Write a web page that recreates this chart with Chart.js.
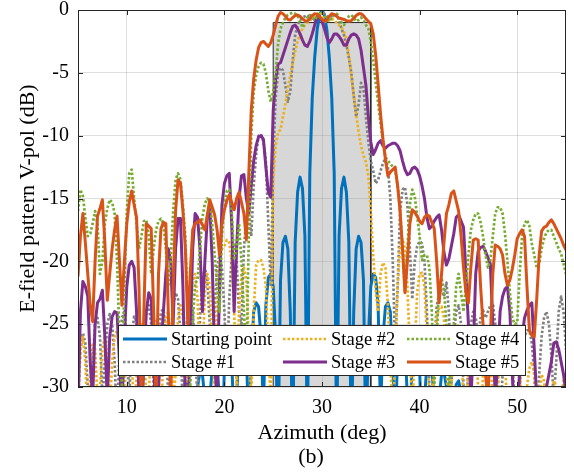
<!DOCTYPE html>
<html>
<head>
<meta charset="utf-8">
<script src="https://cdn.jsdelivr.net/npm/chart.js@4.4.1/dist/chart.umd.min.js"></script>
<style>
  html, body { margin: 0; padding: 0; background: #fff; }
  canvas { display: block; }
</style>
</head>
<body>
<canvas id="chart" width="574" height="472"></canvas>
<script>
// azimuth grid, 0.25 deg step from 5 to 55
const azimuth = [];
for (let i = 0; i <= 200; i++) azimuth.push(5 + i * 0.25);

const xTickValues = [10, 20, 30, 40, 50];
const yTickValues = [-30, -25, -20, -15, -10, -5, 0];

// mask (shaded target region)
const maskAzimuth = [25, 25, 35, 35];
const maskLevel = [-30, -1, -1, -30];

// E-field pattern V-pol (dB), one value per azimuth step
const startingPoint = [
  -34, -32, -31.5, -33, -38, -33, -31.5, -32, -35, -37, -32, -31, -32, -36, -36, -32, -30.8, -31.5, -34, -38,
  -34, -32, -31.5, -33, -38, -33, -31.5, -32, -35, -37, -32, -31, -32, -36, -36, -32, -31, -31.5, -34, -38,
  -33, -37, -34, -30.5, -29.5, -29.8, -31.5, -36, -33, -30, -28.8, -29, -31, -37, -31, -28.5, -27.7, -28.2, -31, -35,
  -28.5, -26.7, -26.7, -28, -33, -31, -26.5, -25.2, -25.3, -27, -34, -28, -24, -23.3, -23.6, -26, -32, -23.5, -21.3, -21,
  -22, -26, -35, -21.5, -18.5, -18, -19, -24, -35, -18.5, -14.5, -13.3, -14.2, -18, -35, -13, -7, -3.8, -1.6, -0.4,
  0, -0.4, -1.6, -3.8, -7, -13, -35, -18, -14.2, -13.3, -14.5, -18.5, -35, -24, -19, -18, -18.5, -21.5, -35, -26,
  -22, -21, -21.3, -23.5, -32, -26, -23.6, -23.3, -24, -28, -34, -27, -25.3, -25.2, -26.5, -31, -33, -28, -26.7, -26.7,
  -28.5, -35, -31, -28.2, -27.7, -28.5, -31, -37, -31, -29, -28.8, -30, -33, -36, -31.5, -29.8, -29.5, -30.5, -34, -37,
  -33, -31, -31.5, -34, -38, -33, -31.5, -32, -35, -37, -32, -31, -32, -36, -36, -32, -30.8, -31.5, -34, -38,
  -34, -32, -31.5, -33, -38, -33, -31.5, -32, -35, -37, -32, -31, -32, -36, -36, -32, -31, -31.5, -34, -38,
  -34
];

const stage1 = [
  -31, -27, -25.7, -26.5, -30, -33, -28, -25, -24.5, -26, -31, -28, -25, -24.2, -25, -28, -33, -27, -24.5, -24,
  -26, -31, -26, -24.4, -24.8, -28, -33, -27, -24, -23.5, -25, -30, -31, -26, -24, -23.8, -25.5, -31, -28, -23.5,
  -22.5, -23, -26, -32, -27, -23.5, -22.8, -24, -27, -31, -24.5, -21.5, -20.5, -21.5, -25, -29, -24, -20.5, -19.5, -20.5,
  -24, -29, -23, -19.5, -18.7, -20, -24, -25, -19, -16.5, -16, -18, -14, -11.5, -10, -9.9, -10.5, -12, -17, -22,
  -12, -7, -5, -4.6, -4.8, -6, -7.3, -6.5, -4, -2, -1.2, -0.8, -0.6, -0.5, -0.4, -0.6, -0.9, -0.8, -0.5, -0.3,
  -0.2, -0.3, -0.5, -0.6, -0.5, -0.4, -0.4, -0.8, -1.5, -2, -2.8, -3.8, -5, -6.8, -8.5, -7.5, -5.8, -6.2, -8.5, -10.5,
  -12, -12.8, -13.8, -13.5, -12.8, -12.2, -11.8, -12.5, -15, -20, -27, -22, -16, -14.3, -14.1, -15.5, -19, -23, -20, -18.8,
  -18.4, -18.6, -20, -24, -30, -32, -27, -23.6, -22.5, -22.3, -22.8, -21.7, -24, -30, -26, -24, -23.5, -25, -30, -33,
  -28, -25, -24, -24.5, -26, -24.5, -23.9, -24.5, -24, -23.5, -23.3, -25, -29, -33, -29, -26, -25.5, -26, -28, -31,
  -33, -30, -27.5, -26, -25.5, -25.5, -26.5, -29, -33, -29, -26, -24.5, -24, -25, -27.5, -31, -28, -24, -22.8, -24,
  -27
];

const stage2 = [
  -31, -27, -26, -28, -33, -29, -26.5, -27, -31, -30, -27, -26, -27.5, -32, -28, -26, -25.5, -27, -31, -30,
  -26.5, -25.5, -27, -33, -29, -25.5, -25, -26.5, -31, -31, -26, -24.5, -25, -29, -33, -27, -24.5, -24, -26, -31,
  -29, -24.5, -23.5, -24.5, -29, -31, -24, -21.5, -21, -23, -29, -28, -22.5, -21, -22, -27, -30, -23, -19.8, -19,
  -18.8, -18.3, -18.5, -20, -24, -30, -24, -21, -20.5, -21.5, -26, -31, -24, -20.3, -19.9, -19.9, -20.5, -22, -27, -31,
  -13.5, -10.8, -9.8, -9.5, -8.5, -7.5, -6.2, -5.2, -4.2, -3.3, -2.5, -1.9, -1.5, -1.2, -1.0, -0.8, -0.6, -0.5, -0.3, -0.2,
  -0.4, -0.8, -1.0, -0.8, -0.7, -0.8, -1.0, -1.2, -1.4, -1.7, -2.3, -3.6, -5.2, -6.8, -8.3, -9.7, -10.8, -11.6, -12.1, -13.2,
  -16, -19.5, -22.3, -24, -21, -20.1, -20.5, -23.5, -28, -33, -27, -22, -18.8, -18.2, -19, -22, -27, -32, -27, -22.5,
  -21, -20.9, -22, -26, -31, -33, -28, -24.5, -23.7, -23.6, -24.5, -28, -33, -30, -26.5, -25, -25.2, -27, -31, -33,
  -28, -26, -25.5, -26.5, -30, -33, -29, -27, -26.5, -27.5, -31, -34, -30, -27.5, -27, -28, -32, -34, -30, -28,
  -27.5, -28.5, -32, -34, -30, -28.5, -28, -29, -33, -31, -29, -29.5, -32, -34, -31, -29.5, -30, -33, -31, -29.5,
  -30
];

const stage3 = [
  -32, -24, -21.6, -22, -22.8, -28, -31, -25, -23.3, -23, -22.3, -26, -31, -26, -24.4, -24, -24.1, -28, -32, -26,
  -22, -20.3, -20, -20.5, -24, -31, -33, -28, -24, -22.5, -23, -28, -33, -30, -27, -24, -21, -19, -20, -25,
  -19, -16.6, -16.6, -22, -31, -33, -26, -19, -16.2, -16.5, -19, -24, -20, -16.5, -15.5, -20, -28, -31, -22, -15.5,
  -13.8, -13.2, -13, -17, -24, -19, -15, -13.2, -13.1, -15, -16.2, -14, -12, -10.8, -10.1, -10, -10.3, -12.5, -14.5, -14.9,
  -8, -5.5, -4.3, -4.2, -3.6, -3.0, -2.4, -1.8, -1.3, -1.2, -1.5, -1.9, -2.4, -2.8, -2.9, -2.5, -1.9, -1.2, -0.6, -0.5,
  -0.9, -1.5, -2.2, -2.6, -2.3, -1.9, -1.9, -2.1, -2.4, -2.8, -2.8, -2.3, -2.0, -1.9, -2.0, -2.3, -3.2, -4.6, -6, -8.5,
  -10.5, -11.5, -11.1, -10.6, -10.4, -10.8, -11, -10.8, -10.7, -10.6, -10.6, -10.8, -11.2, -12, -12.7, -13.1, -13, -12.6, -12.5, -12.7,
  -13.2, -14, -15, -16.5, -17.4, -17.2, -16.8, -16.5, -16.3, -17.5, -19.3, -20.3, -19.8, -18.8, -17.8, -16.5, -16.3, -16.8, -17.3, -21,
  -25, -31, -27, -21, -19.2, -18.9, -18.8, -19.2, -19.7, -20.2, -25, -31, -28, -24, -22.8, -22.2, -22, -24, -29, -33,
  -32, -29, -26, -24.5, -23.9, -23.5, -23.3, -27, -31, -33, -32, -31, -30, -29, -28, -26.5, -26.4, -27, -28, -29,
  -30.5
];

const stage4 = [
  -16, -14.3, -14.8, -16.5, -18, -17.8, -17, -16, -17, -21, -20, -17, -15.8, -15.1, -15.3, -16.2, -20, -26, -30, -22,
  -16, -13, -12.7, -15, -17, -19, -18, -16.8, -16.7, -18, -21, -19, -17.5, -16.8, -16.6, -17, -19, -22, -20, -16,
  -13.5, -13, -13.5, -15.5, -18, -24, -30, -25, -21.7, -21.5, -19, -16.5, -15.4, -15, -15.2, -17, -19.5, -22, -24, -18,
  -15.5, -14.4, -14.3, -16, -19.9, -19, -17, -20, -24, -28, -18, -10, -6.5, -5.2, -4.5, -4.2, -4.3, -5, -6.4, -7.3,
  -6.5, -5, -2.7, -1.5, -1, -0.6, -0.4, -0.3, -0.2, -0.3, -0.5, -0.9, -1.4, -1.0, -0.6, -0.4, -0.5, -0.8, -0.5, -0.3,
  -0.2, -0.4, -0.8, -0.9, -0.6, -0.4, -0.3, -0.5, -1.0, -1.2, -0.8, -0.5, -0.4, -0.6, -0.9, -0.8, -0.6, -0.8, -1.2, -1.5,
  -2.5, -4, -5.8, -7.4, -9, -10.5, -11.7, -12, -12.2, -12.5, -12.8, -14, -16, -19, -22.4, -19, -15.5, -14.3, -14.8, -16.4,
  -18, -19.9, -19.5, -19.5, -20.5, -24, -30, -26, -22, -21.3, -22.3, -25, -30, -28, -25, -22, -21, -22.5, -24, -22,
  -19.5, -17.5, -16.7, -16.2, -16.2, -16.9, -18, -19.5, -20.5, -19.9, -18, -16.2, -15.7, -15.7, -16.2, -17.8, -20, -22.5, -24.5, -25,
  -24.9, -21, -18, -17, -16.7, -17.2, -18.6, -19.5, -20.5, -20.2, -19, -18.2, -17.7, -17.5, -17.5, -18, -18.5, -19, -19.4, -20.2,
  -21
];

const stage5 = [
  -21.2, -18, -16.2, -18.5, -21, -23.5, -24.8, -20, -16.4, -15.8, -15.1, -18.5, -23.1, -21, -19, -17.5, -16.4, -20, -23.5, -20,
  -17, -15.3, -14.4, -15.5, -16.5, -22, -32, -24, -17, -17.2, -17.4, -24, -31, -21, -17.4, -16.9, -17, -24, -31, -22,
  -16, -13.5, -13.8, -16, -19, -25, -21, -17.5, -17, -16.9, -16.7, -17.1, -17.5, -16.3, -15.1, -15.7, -16.3, -17.5, -19.5, -17,
  -15.9, -15.2, -14.7, -15.3, -15.9, -15, -14.5, -15.3, -16.2, -18.3, -13, -8, -5.5, -4, -3, -2.6, -2.5, -2.7, -2.9, -2.6,
  -2.0, -1.2, -0.5, -0.2, -0.3, -0.5, -0.75, -0.8, -0.6, -0.45, -0.4, -0.5, -0.7, -0.85, -0.9, -0.7, -0.45, -0.3, -0.35, -0.55,
  -0.75, -0.9, -0.8, -0.5, -0.3, -0.35, -0.5, -0.65, -0.7, -0.75, -0.85, -0.9, -0.85, -0.65, -0.45, -0.3, -0.3, -0.45, -0.7, -0.9,
  -1.1, -1.9, -3.6, -5.9, -8.3, -10.3, -11.9, -13.2, -12.9, -12.7, -12.5, -14, -16, -19, -22.5, -20, -17, -15.9, -16.1, -16.4,
  -16.8, -17, -16.5, -16.3, -16.4, -16.9, -17.4, -20, -23.3, -21, -18.5, -16.2, -15.5, -14.6, -14.4, -15.2, -16, -18, -20.5, -22.5,
  -23.3, -20.5, -18.3, -18.2, -18.3, -22, -25, -29, -31, -26, -21, -18.7, -18.8, -19, -19.5, -21, -21.9, -21.5, -20.6, -19.5,
  -18.2, -17.8, -17.5, -18, -22, -25.5, -25.9, -26, -23, -19.5, -17.6, -17.3, -17.2, -16.9, -16.7, -17, -17.4, -17.8, -18.2, -18.7,
  -19.1
];

const seriesNames = ["Starting point", "Stage #1", "Stage #2", "Stage #3", "Stage #4", "Stage #5"];
const seriesValues = [startingPoint, stage1, stage2, stage3, stage4, stage5];
const seriesColors = ["#0072BD", "#808080", "#EDB120", "#7E2F8E", "#77AC30", "#D95319"];
const seriesDotted = [false, true, true, false, true, false];

const FONT = "'Liberation Serif', 'Times New Roman', serif";
const AXIS = "#262626";

Chart.defaults.font.family = FONT;
Chart.defaults.color = "#000";

const datasets = seriesValues.map((vals, i) => ({
  label: seriesNames[i],
  data: vals,
  borderColor: seriesColors[i],
  borderWidth: seriesDotted[i] ? 2.7 : 3,
  borderDash: seriesDotted[i] ? [2.5, 2] : [],
  borderJoinStyle: "round",
  pointRadius: 0,
  fill: false,
  clip: 0,
  order: 6 - i
}));

datasets.push({
  label: "mask",
  data: maskAzimuth.map((a, i) => ({ x: a, y: maskLevel[i] })),
  borderColor: AXIS,
  borderWidth: 1,
  backgroundColor: "rgba(150,150,150,0.38)",
  fill: "start",
  pointRadius: 0,
  clip: 0,
  order: 10
});

// box around the plot with inward ticks, MATLAB style
const frame = {
  id: "frame",
  afterDatasetsDraw(chart) {
    const { ctx, chartArea: a, scales } = chart;
    ctx.save();
    ctx.strokeStyle = AXIS;
    ctx.lineWidth = 1;
    ctx.strokeRect(a.left + 0.5, a.top + 0.5, a.right - a.left - 1, a.bottom - a.top - 1);
    ctx.beginPath();
    xTickValues.forEach(v => {
      const p = Math.round(scales.x.getPixelForValue(v)) + 0.5;
      ctx.moveTo(p, a.bottom); ctx.lineTo(p, a.bottom - 5);
      ctx.moveTo(p, a.top); ctx.lineTo(p, a.top + 5);
    });
    yTickValues.forEach(v => {
      const p = Math.round(scales.y.getPixelForValue(v)) + 0.5;
      ctx.moveTo(a.left, p); ctx.lineTo(a.left + 5, p);
      ctx.moveTo(a.right, p); ctx.lineTo(a.right - 5, p);
    });
    ctx.stroke();
    ctx.restore();
  }
};

// legend inside the axes: 3 columns x 2 rows, filled column by column
const boxLegend = {
  id: "boxLegend",
  afterDraw(chart) {
    const { ctx } = chart;
    const colX = [123, 283, 407];
    const rowY = [339, 362];
    ctx.save();
    ctx.fillStyle = "#fff";
    ctx.fillRect(118, 325, 408, 51);
    ctx.strokeStyle = AXIS;
    ctx.lineWidth = 1;
    ctx.strokeRect(118.5, 325.5, 407, 50);
    ctx.font = "18.5px " + FONT;
    ctx.textBaseline = "middle";
    ctx.textAlign = "left";
    seriesNames.forEach((name, i) => {
      const x = colX[Math.floor(i / 2)];
      const y = rowY[i % 2];
      ctx.strokeStyle = seriesColors[i];
      ctx.lineWidth = seriesDotted[i] ? 2.7 : 3;
      ctx.setLineDash(seriesDotted[i] ? [2.5, 2] : []);
      ctx.beginPath();
      ctx.moveTo(x, y); ctx.lineTo(x + 44, y);
      ctx.stroke();
      ctx.fillStyle = "#000";
      ctx.fillText(name, x + 48, y + 1);
    });
    ctx.setLineDash([]);
    ctx.font = "22px " + FONT;
    ctx.textAlign = "center";
    ctx.textBaseline = "alphabetic";
    ctx.fillText("(b)", 311, 463);
    ctx.restore();
  }
};

new Chart(document.getElementById("chart").getContext("2d"), {
  type: "line",
  data: { labels: azimuth, datasets },
  options: {
    responsive: false,
    animation: false,
    layout: { padding: { left: 0, right: 8, top: 10, bottom: 0 } },
    plugins: { legend: { display: false }, tooltip: { enabled: false } },
    elements: { line: { tension: 0 } },
    scales: {
      x: {
        type: "linear",
        min: 5,
        max: 55,
        afterBuildTicks: s => { s.ticks = xTickValues.map(v => ({ value: v })); },
        afterFit: s => { s.height = 85; s.paddingLeft = 0; s.paddingRight = 0; },
        grid: { color: "rgba(38,38,38,0.15)", lineWidth: 1, drawTicks: false },
        border: { display: false },
        ticks: { padding: 9, font: { size: 20 }, color: "#000", maxRotation: 0 },
        title: {
          display: true,
          text: "Azimuth (deg)",
          font: { size: 22 },
          color: "#000",
          padding: { top: 0, bottom: 26 }
        }
      },
      y: {
        min: -30,
        max: 0,
        afterBuildTicks: s => { s.ticks = yTickValues.map(v => ({ value: v })); },
        afterFit: s => { s.width = 78; s.paddingTop = 0; s.paddingBottom = 0; },
        grid: { color: "rgba(38,38,38,0.15)", lineWidth: 1, drawTicks: false },
        border: { display: false },
        ticks: { padding: 9, font: { size: 20 }, color: "#000" },
        title: {
          display: true,
          text: "E-field pattern V-pol (dB)",
          font: { size: 22 },
          color: "#000",
          padding: { top: 15, bottom: 0 }
        }
      }
    }
  },
  plugins: [frame, boxLegend]
});
</script>
</body>
</html>
